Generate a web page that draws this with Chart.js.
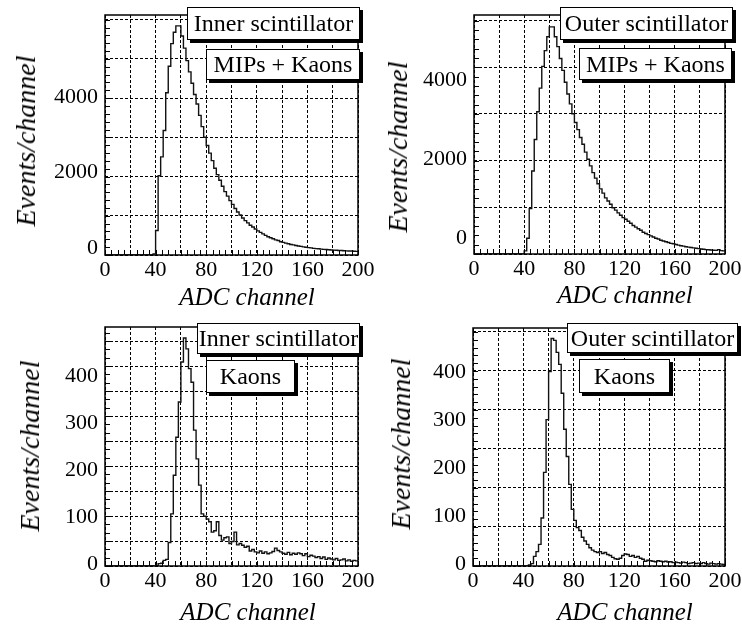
<!DOCTYPE html>
<html>
<head>
<meta charset="utf-8">
<title>ADC spectra</title>
<script src="https://cdn.jsdelivr.net/npm/chart.js@4.4.1/dist/chart.umd.min.js"></script>
<style>
  html, body { margin: 0; padding: 0; background: #fff; }
  #page { position: relative; width: 742px; height: 628px; overflow: hidden; font-family: "Liberation Serif", "DejaVu Serif", serif; color: #000; }
  #page canvas { position: absolute; }
  .pave { position: absolute; box-sizing: border-box; background: #fff; border: 1px solid #000; box-shadow: 3px 3px 0 #000; font-size: 24px; display: flex; align-items: center; justify-content: center; white-space: nowrap; }
  .xtitle { position: absolute; font-style: italic; font-size: 25px; line-height: 25px; white-space: nowrap; transform: translateX(-50%); }
  .ytitle { position: absolute; font-style: italic; font-size: 28px; line-height: 28px; white-space: nowrap; transform: translate(-50%, -50%) rotate(-90deg); }
</style>
</head>
<body>
<div id="page"></div>
<script>
// ADC bin left edges (bin width 2)
const adcBins = [
  0, 2, 4, 6, 8, 10, 12, 14, 16, 18,
  20, 22, 24, 26, 28, 30, 32, 34, 36, 38,
  40, 42, 44, 46, 48, 50, 52, 54, 56, 58,
  60, 62, 64, 66, 68, 70, 72, 74, 76, 78,
  80, 82, 84, 86, 88, 90, 92, 94, 96, 98,
  100, 102, 104, 106, 108, 110, 112, 114, 116, 118,
  120, 122, 124, 126, 128, 130, 132, 134, 136, 138,
  140, 142, 144, 146, 148, 150, 152, 154, 156, 158,
  160, 162, 164, 166, 168, 170, 172, 174, 176, 178,
  180, 182, 184, 186, 188, 190, 192, 194, 196, 198
];
const xTickLabels = [0, 40, 80, 120, 160, 200];
const yTicksMip = [0, 2000, 4000];
const yTicksKaon = [0, 100, 200, 300, 400];

// events per channel
const innerMip = [
  0, 0, 0, 0, 0, 0, 0, 0, 0, 0,
  0, 0, 0, 0, 0, 0, 0, 0, 0, 30,
  650, 2100, 2600, 3300, 4300, 5000, 5600, 5900, 6070, 6070,
  5800, 5480, 5150, 4850, 4550, 4250, 4000, 3700, 3400, 3120,
  2900, 2700, 2500, 2300, 2130, 1980, 1820, 1680, 1560, 1440,
  1340, 1230, 1140, 1060, 980, 910, 850, 790, 740, 690,
  640, 600, 560, 520, 485, 455, 430, 400, 385, 350,
  335, 315, 300, 280, 268, 250, 240, 228, 215, 205,
  195, 188, 176, 170, 165, 156, 150, 146, 140, 134,
  130, 127, 121, 118, 113, 110, 106, 104, 99, 97
];
const outerMip = [
  0, 0, 0, 0, 0, 0, 0, 0, 0, 0,
  0, 0, 0, 0, 0, 0, 0, 0, 0, 0,
  80, 400, 1150, 2100, 2900, 3600, 4200, 4750, 5150, 5500,
  5750, 5750, 5500, 5250, 4950, 4650, 4350, 4050, 3800, 3550,
  3330, 3150, 2950, 2780, 2580, 2400, 2230, 2060, 1920, 1780,
  1650, 1540, 1420, 1340, 1260, 1170, 1110, 1040, 980, 920,
  880, 830, 780, 720, 680, 640, 600, 550, 520, 490,
  460, 430, 400, 380, 350, 330, 310, 290, 270, 260,
  240, 225, 210, 200, 185, 175, 165, 155, 145, 135,
  125, 120, 112, 106, 100, 95, 92, 110, 85, 80
];
const innerKaon = [
  0, 0, 0, 0, 0, 0, 0, 0, 0, 0,
  0, 0, 0, 0, 0, 0, 0, 0, 0, 0,
  0, 5, 6, 12, 14, 50, 111, 193, 274, 349,
  434, 485, 462, 420, 391, 289, 228, 172, 111, 106,
  100, 94, 72, 75, 94, 65, 55, 60, 62, 48,
  52, 72, 45, 48, 44, 40, 42, 32, 35, 30,
  28, 32, 27, 30, 26, 28, 31, 38, 33, 30,
  27, 25, 29, 24, 27, 25, 28, 26, 22, 26,
  20, 23, 21, 18, 20, 16, 19, 14, 17, 15,
  13, 16, 12, 13, 15, 11, 13, 10, 12, 11
];
const outerKaon = [
  0, 0, 0, 0, 0, 0, 0, 0, 0, 0,
  0, 0, 0, 0, 0, 0, 0, 0, 0, 0,
  0, 0, 2, 5, 20, 30, 45, 100, 195, 305,
  405, 474, 470, 445, 420, 360, 285, 228, 170, 118,
  95, 80, 74, 60, 52, 45, 38, 33, 30, 28,
  30, 26, 28, 24, 22, 18, 15, 14, 16, 22,
  25, 24, 20, 22, 18, 20, 16, 14, 10, 12,
  11, 10, 9, 11, 10, 9, 10, 8, 9, 7,
  8, 7, 6, 8, 7, 5, 6, 7, 5, 6,
  5, 7, 5, 4, 6, 5, 4, 5, 4, 3
];

// panel layout: frame = [left, top, right, bottom] of the plot box in page pixels
const panels = [
  { values: innerMip, yTicks: yTicksMip, frame: [105, 15, 358, 255], yMax: 6358, labelOffset: -7, gridMax: 6.12, yMinor: 5, padRight: 20,
    ytitle: [26, 141], xtitle: [247, 284],
    paves: [['Inner scintillator', 187, 7, 173, 33], ['MIPs + Kaons', 206, 49, 154, 31]] },
  { values: outerMip, yTicks: yTicksMip, frame: [474, 15, 725, 254], yMax: 6051, labelOffset: -16, gridMax: 5.12, yMinor: 5, padRight: 16,
    ytitle: [398, 147], xtitle: [625, 282],
    paves: [['Outer scintillator', 560, 7, 173, 33], ['MIPs + Kaons', 579, 48, 153, 32]] },
  { values: innerKaon, yTicks: yTicksKaon, frame: [105, 327, 358, 566], yMax: 508.5, labelOffset: -2, gridMax: 9.56, yMinor: 3, padRight: 20,
    ytitle: [30, 446], xtitle: [248, 599],
    paves: [['Inner scintillator', 197, 323, 163, 31], ['Kaons', 206, 360, 89, 33]] },
  { values: outerKaon, yTicks: yTicksKaon, frame: [473, 328, 725, 566], yMax: 495.8, labelOffset: -2, gridMax: 6.1, yMinor: 5, padRight: 16,
    ytitle: [401, 444], xtitle: [625, 599],
    paves: [['Outer scintillator', 567, 323, 171, 30], ['Kaons', 579, 359, 91, 34]] }
];

const tickFont = { family: '"Liberation Serif", serif', size: 22 };

// solid frame plus inner minor ticks, ROOT style
const frameTicks = {
  id: 'frameTicks',
  afterDatasetsDraw(chart, args, opts) {
    const { ctx, chartArea: a, scales } = chart;
    const x = scales.x, yg = scales.yg;
    ctx.save();
    ctx.strokeStyle = '#000';
    ctx.lineWidth = 1;
    ctx.beginPath();
    for (let i = 0; i * opts.xMinor <= x.max; i++) {
      const px = Math.round(x.getPixelForValue(i * opts.xMinor)) + 0.5;
      ctx.moveTo(px, a.bottom);
      ctx.lineTo(px, a.bottom - 5);
    }
    for (let i = 0; i / opts.yMinor <= yg.max; i++) {
      const py = Math.round(yg.getPixelForValue(i / opts.yMinor)) + 0.5;
      ctx.moveTo(a.left, py);
      ctx.lineTo(a.left + 5, py);
    }
    ctx.stroke();
    ctx.lineWidth = 1.5;
    ctx.strokeRect(a.left, a.top, a.right - a.left, a.bottom - a.top);
    ctx.restore();
  }
};

const page = document.getElementById('page');

function addText(cls, text, x, y) {
  const d = document.createElement('div');
  d.className = cls;
  d.textContent = text;
  d.style.left = x + 'px';
  d.style.top = y + 'px';
  page.appendChild(d);
}

function makePanel(p) {
  const cv = document.createElement('canvas');
  const left = p.frame[0] - 70, top = p.frame[1] - 10;
  cv.width = p.frame[2] - left + p.padRight;
  cv.height = p.frame[3] - top + 30;
  cv.style.left = left + 'px';
  cv.style.top = top + 'px';
  page.appendChild(cv);

  const points = adcBins.map((b, i) => ({ x: b, y: p.values[i] }));
  points.push({ x: 200, y: p.values[p.values.length - 1] });

  new Chart(cv, {
    type: 'line',
    data: {
      datasets: [{
        data: points,
        stepped: true,
        borderColor: '#111',
        borderWidth: 1.4,
        pointRadius: 0,
        fill: false
      }]
    },
    options: {
      responsive: false,
      animation: false,
      devicePixelRatio: 1,
      layout: { padding: { left: 0, top: 10, right: p.padRight, bottom: 0 } },
      plugins: {
        legend: { display: false },
        tooltip: { enabled: false },
        frameTicks: { xMinor: 5, yMinor: p.yMinor }
      },
      scales: {
        x: {
          type: 'linear', min: 0, max: 200,
          ticks: {
            stepSize: 20, autoSkip: false, maxRotation: 0, padding: 2,
            font: tickFont, color: '#000',
            callback: v => xTickLabels.includes(v) ? String(v) : ''
          },
          grid: { color: '#000', lineWidth: 1, drawTicks: false },
          border: { display: false, dash: [3, 2] },
          afterFit: s => { s.height = 30; s.paddingLeft = 0; s.paddingRight = 0; }
        },
        y: {
          position: 'left', min: 0, max: p.yMax,
          afterBuildTicks: s => { s.ticks = p.yTicks.map(v => ({ value: v })); },
          ticks: { labelOffset: p.labelOffset, padding: 7, font: tickFont, color: '#000', callback: v => String(v) },
          grid: { drawOnChartArea: false, drawTicks: false },
          border: { display: false },
          afterFit: s => { s.width = 70; s.paddingTop = 0; s.paddingBottom = 0; }
        },
        yg: {
          position: 'right', min: 0, max: p.gridMax,
          ticks: { display: false, stepSize: 1, includeBounds: false },
          grid: { color: '#000', lineWidth: 1, drawTicks: false },
          border: { display: false, dash: [3, 2] },
          afterFit: s => { s.width = 0; s.paddingTop = 0; s.paddingBottom = 0; }
        }
      }
    },
    plugins: [frameTicks]
  });

  addText('ytitle', 'Events/channel', p.ytitle[0], p.ytitle[1]);
  addText('xtitle', 'ADC channel', p.xtitle[0], p.xtitle[1]);
  p.paves.forEach(([text, x, y, w, h]) => {
    const d = document.createElement('div');
    d.className = 'pave';
    d.textContent = text;
    d.style.left = x + 'px';
    d.style.top = y + 'px';
    d.style.width = w + 'px';
    d.style.height = h + 'px';
    page.appendChild(d);
  });
}

panels.forEach(makePanel);
</script>
</body>
</html>
